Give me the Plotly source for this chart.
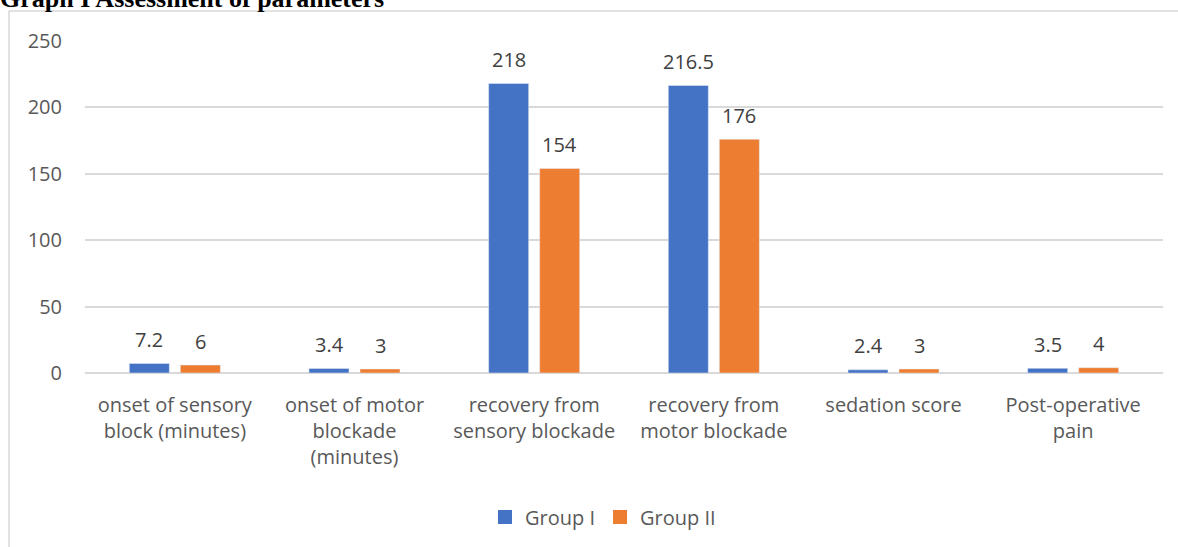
import plotly.graph_objects as go

categories = [
    "onset of sensory<br>block (minutes)",
    "onset of motor<br>blockade<br>(minutes)",
    "recovery from<br>sensory blockade",
    "recovery from<br>motor blockade",
    "sedation score",
    "Post-operative<br>pain",
]
group1 = [7.2, 3.4, 218, 216.5, 2.4, 3.5]
group2 = [6, 3, 154, 176, 3, 4]
group1_labels = ["7.2", "3.4", "218", "216.5", "2.4", "3.5"]
group2_labels = ["6", "3", "154", "176", "3", "4"]
y_ticks = [0, 50, 100, 150, 200, 250]
series_names = ["Group I", "Group II"]
series_colors = ["#4472C4", "#ED7D31"]

W, H = 1178, 547
L, R, T, B = 85, 15, 41, 173
pw, ph = W - L - R, H - T - B

def px_x(x):
    return (x - L) / pw

def px_y(y):
    return (H - B - y) / ph

font_main = "Open Sans"

fig = go.Figure()
for name, vals, col in zip(series_names, [group1, group2], series_colors):
    fig.add_trace(go.Bar(name=name, x=categories, y=vals, marker_color=col, showlegend=False))
# legend entries with larger square swatches
for name, col in zip(series_names, series_colors):
    fig.add_trace(go.Scatter(name=name, x=[None], y=[None], mode="markers",
                             marker=dict(symbol="square", size=14, color=col)))

annotations = []
for vals, labels, shift in [(group1, group1_labels, -25.5), (group2, group2_labels, 25.5)]:
    for cat, v, t in zip(categories, vals, labels):
        annotations.append(dict(x=cat, y=v, xref="x", yref="y", text=t, showarrow=False,
                                xshift=shift, yshift=24, yanchor="middle",
                                font=dict(family=font_main, size=20, color="#404040")))

annotations.append(dict(x=px_x(-2), y=px_y(15), xref="paper", yref="paper",
                        xanchor="left", yanchor="bottom", showarrow=False,
                        text="<b>Graph I Assessment of parameters</b>",
                        font=dict(family="Liberation Serif", size=26, color="black")))

shapes = [
    dict(type="line", xref="paper", yref="paper", x0=px_x(9), x1=px_x(9),
         y0=px_y(11), y1=px_y(560), line=dict(color="#d9d9d9", width=1.5)),
    dict(type="line", xref="paper", yref="paper", x0=px_x(9), x1=px_x(1190),
         y0=px_y(11), y1=px_y(11), line=dict(color="#d9d9d9", width=1.5)),
]

fig.update_layout(
    width=W, height=H,
    margin=dict(l=L, r=R, t=T, b=B),
    paper_bgcolor="white", plot_bgcolor="white",
    barmode="group", bargap=0.432, bargroupgap=0.216,
    font=dict(family=font_main, size=20, color="#595959"),
    showlegend=True,
    legend=dict(orientation="h", x=px_x(603), xanchor="center", y=px_y(517), yanchor="middle",
                font=dict(family=font_main, size=20, color="#595959"),
                itemwidth=30, traceorder="normal"),
    annotations=annotations,
    shapes=shapes,
)
fig.update_xaxes(showgrid=False, showline=False, zeroline=False,
                 ticks="outside", ticklen=14, tickcolor="rgba(0,0,0,0)",
                 tickfont=dict(family=font_main, size=20, color="#595959"))
fig.update_yaxes(range=[0, 250], tickvals=y_ticks, showgrid=True, gridcolor="#d9d9d9",
                 gridwidth=1.5, zeroline=True, zerolinecolor="#d9d9d9", zerolinewidth=1.5,
                 showline=False, ticklabelstandoff=22,
                 tickfont=dict(family=font_main, size=20, color="#595959"))

fig.write_html("out.html")
